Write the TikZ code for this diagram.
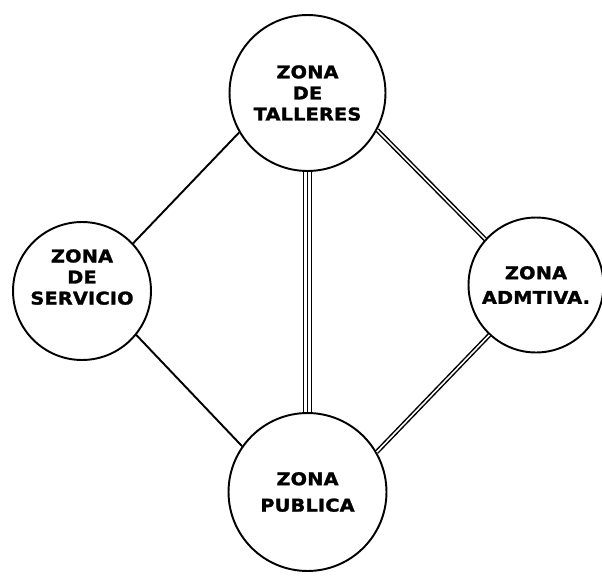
\documentclass[tikz,border=0pt]{standalone}
\usepackage{fontspec}
\newfontfamily\rotulo[FakeStretch=1.1,LetterSpace=1,FakeBold=1.6]{DejaVu Sans}
\tikzset{
  zona/.style   = {circle, draw, line width=1.1pt, inner sep=0, align=center,
                   font=\rotulo\bfseries\fontsize{10}{12}\selectfont},
  enlace/.style = {line width=1.1pt},
  doble/.style  = {double, line width=0.85pt, double distance=0.9pt}
}
\begin{document}
\begin{tikzpicture}[x=0.02cm, y=-0.02cm]
  \useasboundingbox (0,0) rectangle (602,575);
  \node[zona, minimum size=3.12cm] (T) at (307.5, 93) {ZONA\\DE\\TALLERES};
  \node[zona, minimum size=2.76cm] (S) at ( 82, 291) {ZONA\\DE\\SERVICIO\\[4pt]};
  \node[zona, minimum size=2.70cm] (A) at (536, 285) {ZONA\\[2pt]ADMTIVA.};
  \node[zona, minimum size=3.16cm] (P) at (307.5, 492) {ZONA\\[3pt]PUBLICA};
  \draw[enlace] (T.210) -- (S.43);
  \draw[enlace] (S.-39) -- (P.145);
  \draw[doble] (T.-28) -- (A.138);
  \draw[doble] (A.227) -- (P.30);
  \draw[doble, double distance=3.7pt] (T) -- (P); \draw[line width=0.85pt] (T) -- (P);
\end{tikzpicture}
\end{document}
